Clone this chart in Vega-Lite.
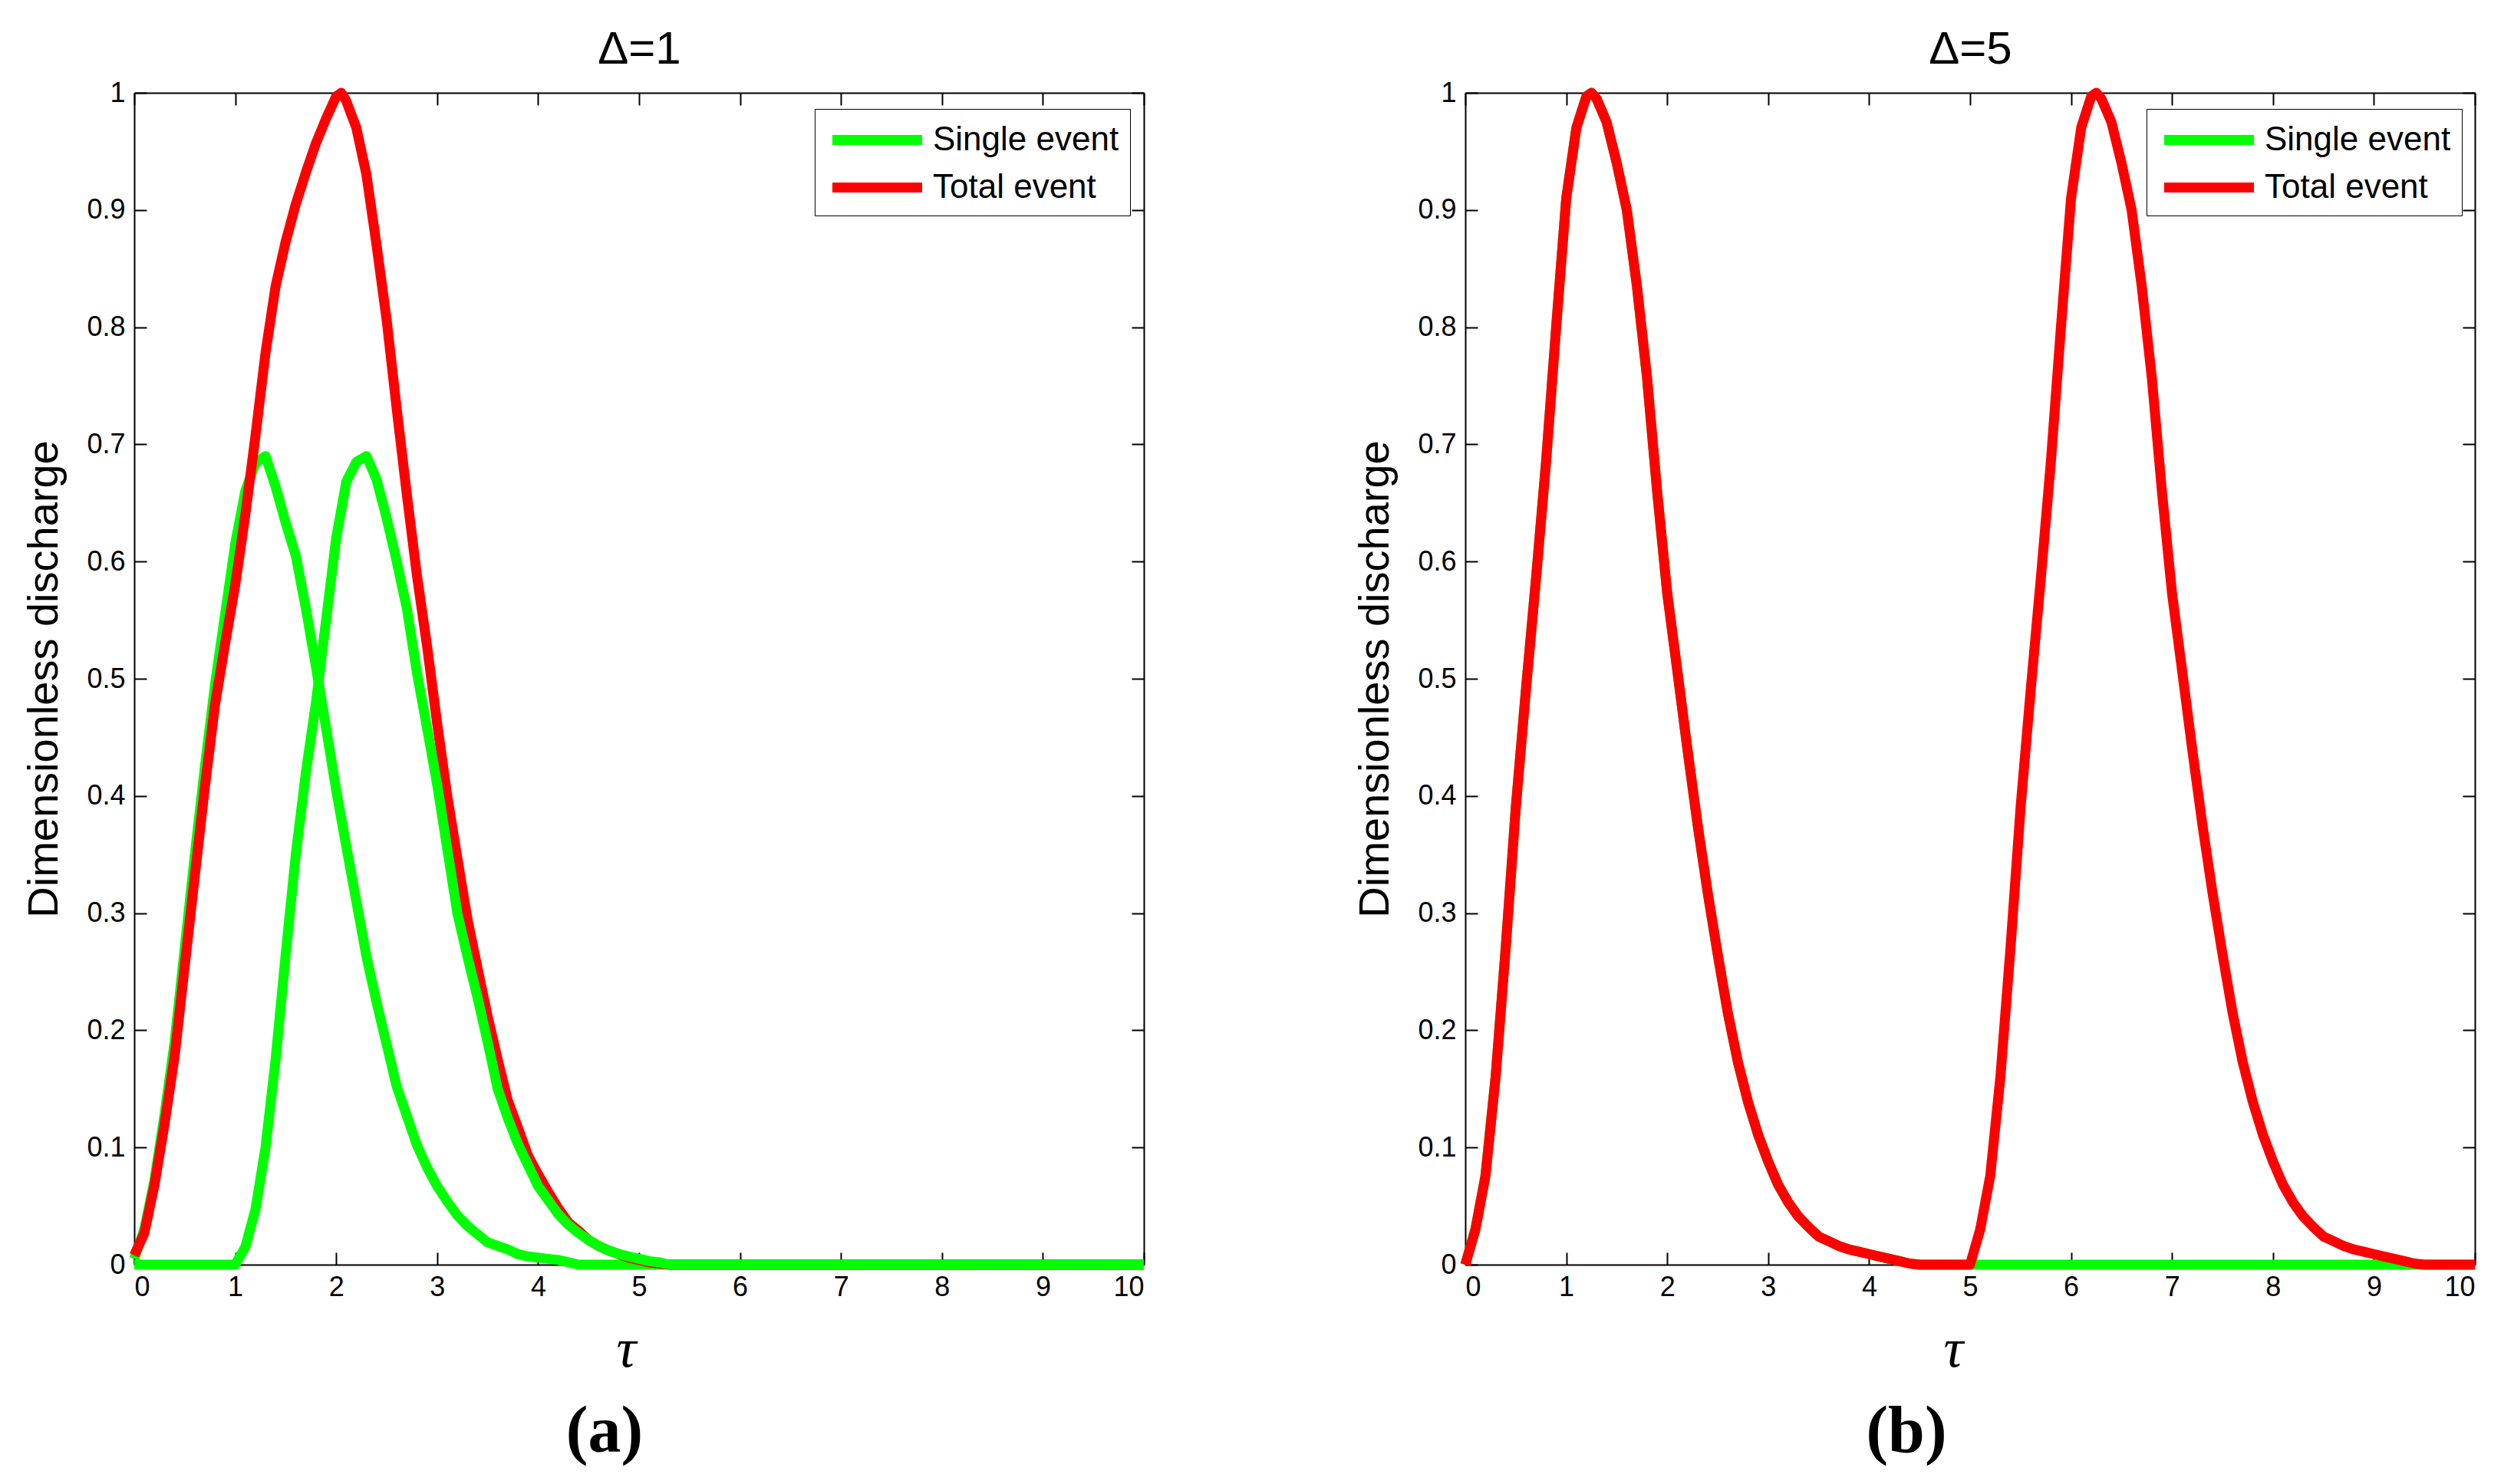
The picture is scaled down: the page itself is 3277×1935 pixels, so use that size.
{
"$schema": "https://vega.github.io/schema/vega-lite/v6.json",
"background": "white",
"padding": {"left": 29, "top": 34, "right": 5, "bottom": 5},
"config": {
  "view": {"stroke": null},
  "font": "Liberation Sans",
  "axis": {"grid": false, "domainColor": "black", "domainWidth": 2, "tickColor": "black", "tickWidth": 2, "tickSize": -16, "labelColor": "black", "titleColor": "black", "labelFont": "Liberation Sans", "labelFontSize": 36, "titleFont": "Liberation Sans", "titleFontWeight": "normal"},
  "line": {"strokeWidth": 13, "strokeJoin": "round"}
},
"datasets": {
  "a_s1": [
    {"t":0,"q":0.005,"s":"Single event"},{"t":0.1,"q":0.03,"s":"Single event"},{"t":0.2,"q":0.072,"s":"Single event"},{"t":0.3,"q":0.128,"s":"Single event"},{"t":0.4,"q":0.19,"s":"Single event"},{"t":0.5,"q":0.27,"s":"Single event"},{"t":0.6,"q":0.35,"s":"Single event"},{"t":0.7,"q":0.425,"s":"Single event"},{"t":0.8,"q":0.495,"s":"Single event"},{"t":0.9,"q":0.555,"s":"Single event"},{"t":1.0,"q":0.615,"s":"Single event"},{"t":1.1,"q":0.66,"s":"Single event"},{"t":1.2,"q":0.684,"s":"Single event"},{"t":1.3,"q":0.69,"s":"Single event"},{"t":1.4,"q":0.664,"s":"Single event"},{"t":1.5,"q":0.633,"s":"Single event"},{"t":1.6,"q":0.605,"s":"Single event"},{"t":1.7,"q":0.56,"s":"Single event"},{"t":1.8,"q":0.51,"s":"Single event"},{"t":1.9,"q":0.458,"s":"Single event"},{"t":2.0,"q":0.405,"s":"Single event"},{"t":2.1,"q":0.357,"s":"Single event"},{"t":2.2,"q":0.31,"s":"Single event"},{"t":2.3,"q":0.263,"s":"Single event"},{"t":2.4,"q":0.224,"s":"Single event"},{"t":2.5,"q":0.188,"s":"Single event"},{"t":2.6,"q":0.152,"s":"Single event"},{"t":2.7,"q":0.127,"s":"Single event"},{"t":2.8,"q":0.102,"s":"Single event"},{"t":2.9,"q":0.083,"s":"Single event"},{"t":3.0,"q":0.067,"s":"Single event"},{"t":3.1,"q":0.054,"s":"Single event"},{"t":3.2,"q":0.042,"s":"Single event"},{"t":3.3,"q":0.033,"s":"Single event"},{"t":3.4,"q":0.026,"s":"Single event"},{"t":3.5,"q":0.019,"s":"Single event"},{"t":3.6,"q":0.016,"s":"Single event"},{"t":3.7,"q":0.013,"s":"Single event"},{"t":3.8,"q":0.009,"s":"Single event"},{"t":3.9,"q":0.007,"s":"Single event"},{"t":4.0,"q":0.006,"s":"Single event"},{"t":4.1,"q":0.005,"s":"Single event"},{"t":4.2,"q":0.004,"s":"Single event"},{"t":4.3,"q":0.002,"s":"Single event"},{"t":4.4,"q":0,"s":"Single event"},{"t":10,"q":0,"s":"Single event"}
  ],
  "a_tot": [
    {"t":0,"q":0.008,"s":"Total event"},{"t":0.1,"q":0.027,"s":"Total event"},{"t":0.2,"q":0.068,"s":"Total event"},{"t":0.3,"q":0.12,"s":"Total event"},{"t":0.4,"q":0.178,"s":"Total event"},{"t":0.5,"q":0.255,"s":"Total event"},{"t":0.6,"q":0.332,"s":"Total event"},{"t":0.7,"q":0.408,"s":"Total event"},{"t":0.8,"q":0.478,"s":"Total event"},{"t":0.9,"q":0.53,"s":"Total event"},{"t":1.0,"q":0.58,"s":"Total event"},{"t":1.1,"q":0.64,"s":"Total event"},{"t":1.2,"q":0.707,"s":"Total event"},{"t":1.3,"q":0.778,"s":"Total event"},{"t":1.4,"q":0.835,"s":"Total event"},{"t":1.5,"q":0.873,"s":"Total event"},{"t":1.6,"q":0.905,"s":"Total event"},{"t":1.7,"q":0.932,"s":"Total event"},{"t":1.8,"q":0.957,"s":"Total event"},{"t":1.9,"q":0.978,"s":"Total event"},{"t":2.0,"q":0.997,"s":"Total event"},{"t":2.05,"q":1.0,"s":"Total event"},{"t":2.1,"q":0.993,"s":"Total event"},{"t":2.2,"q":0.97,"s":"Total event"},{"t":2.3,"q":0.93,"s":"Total event"},{"t":2.4,"q":0.87,"s":"Total event"},{"t":2.5,"q":0.806,"s":"Total event"},{"t":2.6,"q":0.73,"s":"Total event"},{"t":2.7,"q":0.657,"s":"Total event"},{"t":2.8,"q":0.588,"s":"Total event"},{"t":2.9,"q":0.528,"s":"Total event"},{"t":3.0,"q":0.462,"s":"Total event"},{"t":3.1,"q":0.4,"s":"Total event"},{"t":3.2,"q":0.347,"s":"Total event"},{"t":3.3,"q":0.295,"s":"Total event"},{"t":3.4,"q":0.253,"s":"Total event"},{"t":3.5,"q":0.212,"s":"Total event"},{"t":3.6,"q":0.175,"s":"Total event"},{"t":3.7,"q":0.14,"s":"Total event"},{"t":3.8,"q":0.117,"s":"Total event"},{"t":3.9,"q":0.093,"s":"Total event"},{"t":4.0,"q":0.077,"s":"Total event"},{"t":4.1,"q":0.062,"s":"Total event"},{"t":4.2,"q":0.048,"s":"Total event"},{"t":4.3,"q":0.036,"s":"Total event"},{"t":4.4,"q":0.029,"s":"Total event"},{"t":4.5,"q":0.021,"s":"Total event"},{"t":4.6,"q":0.016,"s":"Total event"},{"t":4.7,"q":0.012,"s":"Total event"},{"t":4.8,"q":0.009,"s":"Total event"},{"t":4.9,"q":0.006,"s":"Total event"},{"t":5.0,"q":0.004,"s":"Total event"},{"t":5.1,"q":0.002,"s":"Total event"},{"t":5.2,"q":0.001,"s":"Total event"},{"t":5.3,"q":0,"s":"Total event"},{"t":10,"q":0,"s":"Total event"}
  ],
  "a_s2": [
    {"t":0,"q":0,"s":"Single event"},{"t":1.0,"q":0,"s":"Single event"},{"t":1.1,"q":0.015,"s":"Single event"},{"t":1.2,"q":0.047,"s":"Single event"},{"t":1.3,"q":0.1,"s":"Single event"},{"t":1.4,"q":0.175,"s":"Single event"},{"t":1.5,"q":0.265,"s":"Single event"},{"t":1.6,"q":0.35,"s":"Single event"},{"t":1.7,"q":0.42,"s":"Single event"},{"t":1.8,"q":0.48,"s":"Single event"},{"t":1.9,"q":0.55,"s":"Single event"},{"t":2.0,"q":0.62,"s":"Single event"},{"t":2.1,"q":0.668,"s":"Single event"},{"t":2.2,"q":0.685,"s":"Single event"},{"t":2.3,"q":0.69,"s":"Single event"},{"t":2.4,"q":0.67,"s":"Single event"},{"t":2.5,"q":0.637,"s":"Single event"},{"t":2.6,"q":0.6,"s":"Single event"},{"t":2.7,"q":0.56,"s":"Single event"},{"t":2.8,"q":0.505,"s":"Single event"},{"t":2.9,"q":0.458,"s":"Single event"},{"t":3.0,"q":0.41,"s":"Single event"},{"t":3.1,"q":0.355,"s":"Single event"},{"t":3.2,"q":0.3,"s":"Single event"},{"t":3.3,"q":0.263,"s":"Single event"},{"t":3.4,"q":0.228,"s":"Single event"},{"t":3.5,"q":0.19,"s":"Single event"},{"t":3.6,"q":0.15,"s":"Single event"},{"t":3.7,"q":0.125,"s":"Single event"},{"t":3.8,"q":0.103,"s":"Single event"},{"t":3.9,"q":0.085,"s":"Single event"},{"t":4.0,"q":0.067,"s":"Single event"},{"t":4.1,"q":0.055,"s":"Single event"},{"t":4.2,"q":0.043,"s":"Single event"},{"t":4.3,"q":0.034,"s":"Single event"},{"t":4.4,"q":0.027,"s":"Single event"},{"t":4.5,"q":0.021,"s":"Single event"},{"t":4.6,"q":0.016,"s":"Single event"},{"t":4.7,"q":0.012,"s":"Single event"},{"t":4.8,"q":0.009,"s":"Single event"},{"t":4.9,"q":0.007,"s":"Single event"},{"t":5.0,"q":0.005,"s":"Single event"},{"t":5.1,"q":0.003,"s":"Single event"},{"t":5.2,"q":0.002,"s":"Single event"},{"t":5.3,"q":0,"s":"Single event"},{"t":10,"q":0,"s":"Single event"}
  ],
  "b_s1": [
    {"t":0,"q":0,"s":"Single event"},{"t":0.1,"q":0.03,"s":"Single event"},{"t":0.2,"q":0.076,"s":"Single event"},{"t":0.3,"q":0.16,"s":"Single event"},{"t":0.4,"q":0.27,"s":"Single event"},{"t":0.5,"q":0.39,"s":"Single event"},{"t":0.6,"q":0.49,"s":"Single event"},{"t":0.7,"q":0.585,"s":"Single event"},{"t":0.8,"q":0.685,"s":"Single event"},{"t":0.9,"q":0.8,"s":"Single event"},{"t":1.0,"q":0.91,"s":"Single event"},{"t":1.1,"q":0.97,"s":"Single event"},{"t":1.2,"q":0.997,"s":"Single event"},{"t":1.25,"q":1.0,"s":"Single event"},{"t":1.3,"q":0.995,"s":"Single event"},{"t":1.4,"q":0.975,"s":"Single event"},{"t":1.5,"q":0.94,"s":"Single event"},{"t":1.6,"q":0.9,"s":"Single event"},{"t":1.7,"q":0.835,"s":"Single event"},{"t":1.8,"q":0.757,"s":"Single event"},{"t":1.9,"q":0.66,"s":"Single event"},{"t":2.0,"q":0.573,"s":"Single event"},{"t":2.1,"q":0.507,"s":"Single event"},{"t":2.2,"q":0.44,"s":"Single event"},{"t":2.3,"q":0.376,"s":"Single event"},{"t":2.4,"q":0.318,"s":"Single event"},{"t":2.5,"q":0.265,"s":"Single event"},{"t":2.6,"q":0.215,"s":"Single event"},{"t":2.7,"q":0.173,"s":"Single event"},{"t":2.8,"q":0.139,"s":"Single event"},{"t":2.9,"q":0.111,"s":"Single event"},{"t":3.0,"q":0.088,"s":"Single event"},{"t":3.1,"q":0.068,"s":"Single event"},{"t":3.2,"q":0.053,"s":"Single event"},{"t":3.3,"q":0.041,"s":"Single event"},{"t":3.4,"q":0.032,"s":"Single event"},{"t":3.5,"q":0.024,"s":"Single event"},{"t":3.6,"q":0.02,"s":"Single event"},{"t":3.7,"q":0.016,"s":"Single event"},{"t":3.8,"q":0.013,"s":"Single event"},{"t":3.9,"q":0.011,"s":"Single event"},{"t":4.0,"q":0.009,"s":"Single event"},{"t":4.1,"q":0.007,"s":"Single event"},{"t":4.2,"q":0.005,"s":"Single event"},{"t":4.3,"q":0.003,"s":"Single event"},{"t":4.4,"q":0.001,"s":"Single event"},{"t":4.5,"q":0,"s":"Single event"},{"t":10,"q":0,"s":"Single event"}
  ],
  "b_tot": [
    {"t":0,"q":0,"s":"Total event"},{"t":0.1,"q":0.03,"s":"Total event"},{"t":0.2,"q":0.076,"s":"Total event"},{"t":0.3,"q":0.16,"s":"Total event"},{"t":0.4,"q":0.27,"s":"Total event"},{"t":0.5,"q":0.39,"s":"Total event"},{"t":0.6,"q":0.49,"s":"Total event"},{"t":0.7,"q":0.585,"s":"Total event"},{"t":0.8,"q":0.685,"s":"Total event"},{"t":0.9,"q":0.8,"s":"Total event"},{"t":1.0,"q":0.91,"s":"Total event"},{"t":1.1,"q":0.97,"s":"Total event"},{"t":1.2,"q":0.997,"s":"Total event"},{"t":1.25,"q":1.0,"s":"Total event"},{"t":1.3,"q":0.995,"s":"Total event"},{"t":1.4,"q":0.975,"s":"Total event"},{"t":1.5,"q":0.94,"s":"Total event"},{"t":1.6,"q":0.9,"s":"Total event"},{"t":1.7,"q":0.835,"s":"Total event"},{"t":1.8,"q":0.757,"s":"Total event"},{"t":1.9,"q":0.66,"s":"Total event"},{"t":2.0,"q":0.573,"s":"Total event"},{"t":2.1,"q":0.507,"s":"Total event"},{"t":2.2,"q":0.44,"s":"Total event"},{"t":2.3,"q":0.376,"s":"Total event"},{"t":2.4,"q":0.318,"s":"Total event"},{"t":2.5,"q":0.265,"s":"Total event"},{"t":2.6,"q":0.215,"s":"Total event"},{"t":2.7,"q":0.173,"s":"Total event"},{"t":2.8,"q":0.139,"s":"Total event"},{"t":2.9,"q":0.111,"s":"Total event"},{"t":3.0,"q":0.088,"s":"Total event"},{"t":3.1,"q":0.068,"s":"Total event"},{"t":3.2,"q":0.053,"s":"Total event"},{"t":3.3,"q":0.041,"s":"Total event"},{"t":3.4,"q":0.032,"s":"Total event"},{"t":3.5,"q":0.024,"s":"Total event"},{"t":3.6,"q":0.02,"s":"Total event"},{"t":3.7,"q":0.016,"s":"Total event"},{"t":3.8,"q":0.013,"s":"Total event"},{"t":3.9,"q":0.011,"s":"Total event"},{"t":4.0,"q":0.009,"s":"Total event"},{"t":4.1,"q":0.007,"s":"Total event"},{"t":4.2,"q":0.005,"s":"Total event"},{"t":4.3,"q":0.003,"s":"Total event"},{"t":4.4,"q":0.001,"s":"Total event"},{"t":4.5,"q":0,"s":"Total event"},{"t":5.0,"q":0,"s":"Total event"},
    {"t":5.1,"q":0.03,"s":"Total event"},{"t":5.2,"q":0.076,"s":"Total event"},{"t":5.3,"q":0.16,"s":"Total event"},{"t":5.4,"q":0.27,"s":"Total event"},{"t":5.5,"q":0.39,"s":"Total event"},{"t":5.6,"q":0.49,"s":"Total event"},{"t":5.7,"q":0.585,"s":"Total event"},{"t":5.8,"q":0.685,"s":"Total event"},{"t":5.9,"q":0.8,"s":"Total event"},{"t":6.0,"q":0.91,"s":"Total event"},{"t":6.1,"q":0.97,"s":"Total event"},{"t":6.2,"q":0.997,"s":"Total event"},{"t":6.25,"q":1.0,"s":"Total event"},{"t":6.3,"q":0.995,"s":"Total event"},{"t":6.4,"q":0.975,"s":"Total event"},{"t":6.5,"q":0.94,"s":"Total event"},{"t":6.6,"q":0.9,"s":"Total event"},{"t":6.7,"q":0.835,"s":"Total event"},{"t":6.8,"q":0.757,"s":"Total event"},{"t":6.9,"q":0.66,"s":"Total event"},{"t":7.0,"q":0.573,"s":"Total event"},{"t":7.1,"q":0.507,"s":"Total event"},{"t":7.2,"q":0.44,"s":"Total event"},{"t":7.3,"q":0.376,"s":"Total event"},{"t":7.4,"q":0.318,"s":"Total event"},{"t":7.5,"q":0.265,"s":"Total event"},{"t":7.6,"q":0.215,"s":"Total event"},{"t":7.7,"q":0.173,"s":"Total event"},{"t":7.8,"q":0.139,"s":"Total event"},{"t":7.9,"q":0.111,"s":"Total event"},{"t":8.0,"q":0.088,"s":"Total event"},{"t":8.1,"q":0.068,"s":"Total event"},{"t":8.2,"q":0.053,"s":"Total event"},{"t":8.3,"q":0.041,"s":"Total event"},{"t":8.4,"q":0.032,"s":"Total event"},{"t":8.5,"q":0.024,"s":"Total event"},{"t":8.6,"q":0.02,"s":"Total event"},{"t":8.7,"q":0.016,"s":"Total event"},{"t":8.8,"q":0.013,"s":"Total event"},{"t":8.9,"q":0.011,"s":"Total event"},{"t":9.0,"q":0.009,"s":"Total event"},{"t":9.1,"q":0.007,"s":"Total event"},{"t":9.2,"q":0.005,"s":"Total event"},{"t":9.3,"q":0.003,"s":"Total event"},{"t":9.4,"q":0.001,"s":"Total event"},{"t":9.5,"q":0,"s":"Total event"},{"t":10,"q":0,"s":"Total event"}
  ]
},
"spacing": 266,
"resolve": {"scale": {"color": "independent"}, "legend": {"color": "independent"}},
"hconcat": [
  {
    "width": 1316, "height": 1528,
    "title": {"text": "(a)", "orient": "bottom", "font": "Liberation Serif", "fontWeight": "bold", "fontSize": 86, "color": "black", "anchor": "middle", "frame": "group", "dx": -45, "offset": 30},
    "resolve": {"axis": {"x": "independent", "y": "independent"}},
    "layer": [
      {"data": {"name": "a_s1"}, "mark": {"type": "line"},
       "encoding": {
         "x": {"field": "t", "type": "quantitative", "scale": {"domain": [0, 10], "nice": false}, "axis": {"orient": "bottom", "values": [0,1,2,3,4,5,6,7,8,9,10], "labelPadding": 28, "title": "τ", "titleFont": "Liberation Serif", "titleFontStyle": "italic", "titleFontSize": 72, "titlePadding": 28, "titleX": 641}},
         "y": {"field": "q", "type": "quantitative", "scale": {"domain": [0, 1], "nice": false}, "axis": {"orient": "left", "values": [0,0.1,0.2,0.3,0.4,0.5,0.6,0.7,0.8,0.9,1], "format": "~g", "labelPadding": 28, "title": "Dimensionless discharge", "titleFontSize": 56, "titlePadding": 26}},
         "color": {"field": "s", "type": "nominal", "scale": {"domain": ["Single event", "Total event"], "range": ["#00ff00", "#ff0000"]}, "legend": {"title": null, "orient": "none", "legendX": 887, "legendY": 21, "symbolType": "M-2.925,0H2.925", "symbolStrokeWidth": 12, "symbolSize": 1600, "symbolOffset": 41, "labelFontSize": 44, "labelFont": "Liberation Sans", "labelColor": "black", "strokeColor": "black", "fillColor": "white", "padding": 14, "rowPadding": 13, "labelOffset": 46, "labelLimit": 0}}
       }},
      {"data": {"name": "a_tot"}, "mark": {"type": "line"},
       "encoding": {
         "x": {"field": "t", "type": "quantitative", "axis": null},
         "y": {"field": "q", "type": "quantitative", "axis": null},
         "color": {"field": "s", "type": "nominal"}
       }},
      {"data": {"name": "a_s2"}, "mark": {"type": "line"},
       "encoding": {
         "x": {"field": "t", "type": "quantitative", "axis": {"orient": "top", "values": [0,1,2,3,4,5,6,7,8,9,10], "labels": false, "title": "Δ=1", "titleFontSize": 60, "titlePadding": 25}},
         "y": {"field": "q", "type": "quantitative", "axis": {"orient": "right", "values": [0,0.1,0.2,0.3,0.4,0.5,0.6,0.7,0.8,0.9,1], "labels": false, "title": null}},
         "color": {"field": "s", "type": "nominal"}
       }}
    ]
  },
  {
    "width": 1316, "height": 1528,
    "title": {"text": "(b)", "orient": "bottom", "font": "Liberation Serif", "fontWeight": "bold", "fontSize": 86, "color": "black", "anchor": "middle", "frame": "group", "dx": -83, "offset": 30},
    "resolve": {"axis": {"x": "independent", "y": "independent"}},
    "layer": [
      {"data": {"name": "b_s1"}, "mark": {"type": "line"},
       "encoding": {
         "x": {"field": "t", "type": "quantitative", "scale": {"domain": [0, 10], "nice": false}, "axis": {"orient": "bottom", "values": [0,1,2,3,4,5,6,7,8,9,10], "labelPadding": 28, "title": "τ", "titleFont": "Liberation Serif", "titleFontStyle": "italic", "titleFontSize": 72, "titlePadding": 28, "titleX": 636}},
         "y": {"field": "q", "type": "quantitative", "scale": {"domain": [0, 1], "nice": false}, "axis": {"orient": "left", "values": [0,0.1,0.2,0.3,0.4,0.5,0.6,0.7,0.8,0.9,1], "format": "~g", "labelPadding": 28, "title": "Dimensionless discharge", "titleFontSize": 56, "titlePadding": 26}},
         "color": {"field": "s", "type": "nominal", "scale": {"domain": ["Single event", "Total event"], "range": ["#00ff00", "#ff0000"]}, "legend": {"title": null, "orient": "none", "legendX": 888, "legendY": 21, "symbolType": "M-2.925,0H2.925", "symbolStrokeWidth": 12, "symbolSize": 1600, "symbolOffset": 41, "labelFontSize": 44, "labelFont": "Liberation Sans", "labelColor": "black", "strokeColor": "black", "fillColor": "white", "padding": 14, "rowPadding": 13, "labelOffset": 46, "labelLimit": 0}}
       }},
      {"data": {"name": "b_tot"}, "mark": {"type": "line"},
       "encoding": {
         "x": {"field": "t", "type": "quantitative", "axis": {"orient": "top", "values": [0,1,2,3,4,5,6,7,8,9,10], "labels": false, "title": "Δ=5", "titleFontSize": 60, "titlePadding": 25}},
         "y": {"field": "q", "type": "quantitative", "axis": {"orient": "right", "values": [0,0.1,0.2,0.3,0.4,0.5,0.6,0.7,0.8,0.9,1], "labels": false, "title": null}},
         "color": {"field": "s", "type": "nominal"}
       }}
    ]
  }
]
}
